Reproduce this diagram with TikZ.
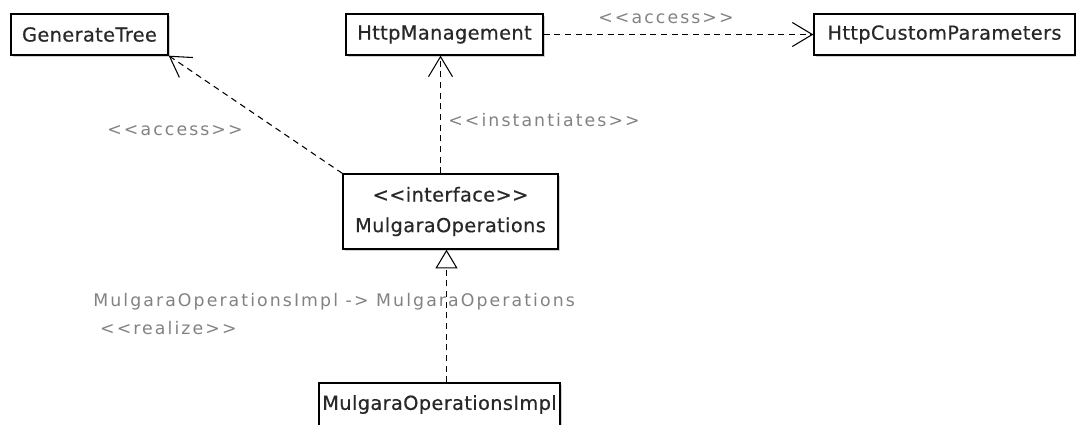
\documentclass[tikz,border=0pt]{standalone}
\usepackage{fontspec}
\setmainfont{DejaVu Sans}
\newfontfamily\classfont[LetterSpace=2, FakeBold=0.5]{DejaVu Sans}
\newfontfamily\stereofont[LetterSpace=12]{DejaVu Sans}
\usepackage{xcolor}
\definecolor{textoclase}{RGB}{40, 40, 40}
\definecolor{grisest}{RGB}{130, 130, 130}
\usetikzlibrary{arrows.meta, shadows}
\newcommand{\stereo}[1]{\textless\textless#1\textgreater\textgreater}

\begin{document}
\begin{tikzpicture}[x=0.75pt, y=-0.75pt,
    classbox/.style={draw, line width=1pt, fill=white, inner sep=0pt, align=center,
      text=textoclase, font=\classfont\fontsize{14.5}{23}\selectfont,
      drop shadow={shadow xshift=1.2pt, shadow yshift=-1.2pt, fill=black!35}},
    dep/.style={line width=0.8pt, dash pattern=on 4.5pt off 3.5pt,
      -{Straight Barb[length=15pt, width=18pt]}},
    realize/.style={line width=0.8pt, dash pattern=on 4.5pt off 3.5pt,
      -{Triangle[open, length=14pt, width=16.5pt]}},
    stereolbl/.style={text=grisest, inner sep=0pt, align=left,
      font=\stereofont\fontsize{13}{21}\selectfont}]
  \useasboundingbox (0,0) rectangle (1076,425);

  % Clases
  \node[classbox, minimum width=117.75pt, minimum height=30.75pt] (gentree) at (89.5,34.5) {GenerateTree};
  \node[classbox, minimum width=147.75pt, minimum height=30.75pt] (httpmgmt) at (444.5,34.5) {HttpManagement};
  \node[classbox, minimum width=195.75pt, minimum height=30.75pt] (httpparams) at (944.5,34.5) {HttpCustomParameters};
  \node[classbox, minimum width=161.25pt, minimum height=56.25pt] (mulops) at (450.5,211.5) {\stereo{interface}\\MulgaraOperations};
  \node[classbox, minimum width=180.75pt, minimum height=32.25pt] (mulimpl) at (439.5,404.5) {MulgaraOperationsImpl};

  % Dependencias
  \draw[dep] (mulops.north west) -- (gentree.south east);
  \draw[dep] ([xshift=-3pt]mulops.north -| httpmgmt.south) -- ([xshift=-3pt]httpmgmt.south);
  \draw[dep] (httpmgmt.east) -- (httpparams.west);

  % Realizacion
  \draw[realize] ([xshift=-3pt]mulimpl.north -| mulops.south) -- ([xshift=-3pt]mulops.south);

  % Etiquetas
  \node[stereolbl] (accgen) at (175,131) {\stereo{access}};
  \node[stereolbl] (inst) at (544,120) {\stereo{instantiates}};
  \node[stereolbl] (accparams) at (666,19) {\stereo{access}};
  \node[stereolbl, anchor=west] (reallbl) at (93,314) {MulgaraOperationsImpl -\textgreater{} MulgaraOperations\\\hspace*{0.4em}\stereo{realize}};
\end{tikzpicture}
\end{document}
